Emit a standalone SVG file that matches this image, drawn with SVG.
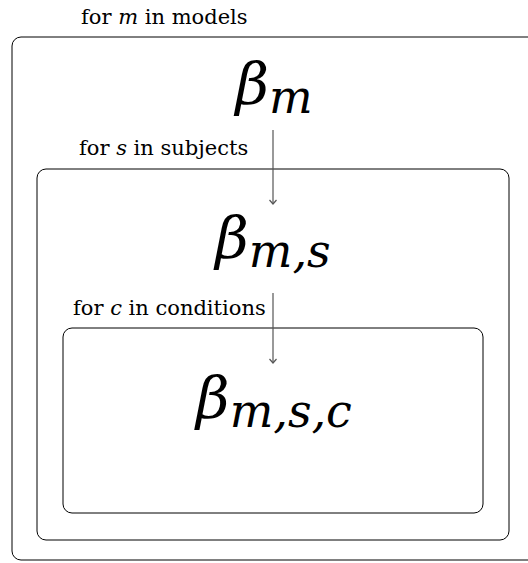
<svg xmlns="http://www.w3.org/2000/svg" width="528" height="563" viewBox="0 0 528 563">
<style>
.plate{fill:none;stroke:#000;stroke-width:1}
.lbl{font-family:"DejaVu Serif","Liberation Serif",serif;font-size:21px;fill:#000}
.var{font-family:"DejaVu Serif","Liberation Serif",serif;font-style:italic;fill:#000}
.edge{stroke:#555;stroke-width:1.2;fill:none}
</style>
<defs>
<marker id="arr" markerWidth="10" markerHeight="10" refX="5" refY="5" orient="auto" markerUnits="userSpaceOnUse">
<path d="M1,1.5 L5,5 L1,8.5" fill="none" stroke="#555" stroke-width="1.2"/>
</marker>
</defs>
<g id="plate-models">
<rect class="plate" x="12" y="37" width="530" height="523" rx="9"/>
<text class="lbl" x="81" y="24">for <tspan font-style="italic">m</tspan> in models</text>
</g>
<g id="plate-subjects">
<rect class="plate" x="37" y="169" width="472" height="371" rx="9"/>
<text class="lbl" x="79" y="155">for <tspan font-style="italic">s</tspan> in subjects</text>
</g>
<g id="plate-conditions">
<rect class="plate" x="63" y="328" width="420" height="185" rx="9"/>
<text class="lbl" x="73" y="315">for <tspan font-style="italic">c</tspan> in conditions</text>
</g>
<g id="node-beta-m">
<text class="var" x="274" y="104" text-anchor="middle" font-size="58">β<tspan font-size="46" dy="9">m</tspan></text>
</g>
<g id="node-beta-ms">
<text class="var" x="273" y="258" text-anchor="middle" font-size="58">β<tspan font-size="46" dy="9">m,s</tspan></text>
</g>
<g id="node-beta-msc">
<text class="var" x="274" y="418" text-anchor="middle" font-size="58">β<tspan font-size="46" dy="9">m,s,c</tspan></text>
</g>
<g id="connectors">
<line class="edge" x1="273" y1="130" x2="273" y2="204" marker-end="url(#arr)"/>
<line class="edge" x1="273" y1="293" x2="273" y2="363" marker-end="url(#arr)"/>
</g>
</svg>
